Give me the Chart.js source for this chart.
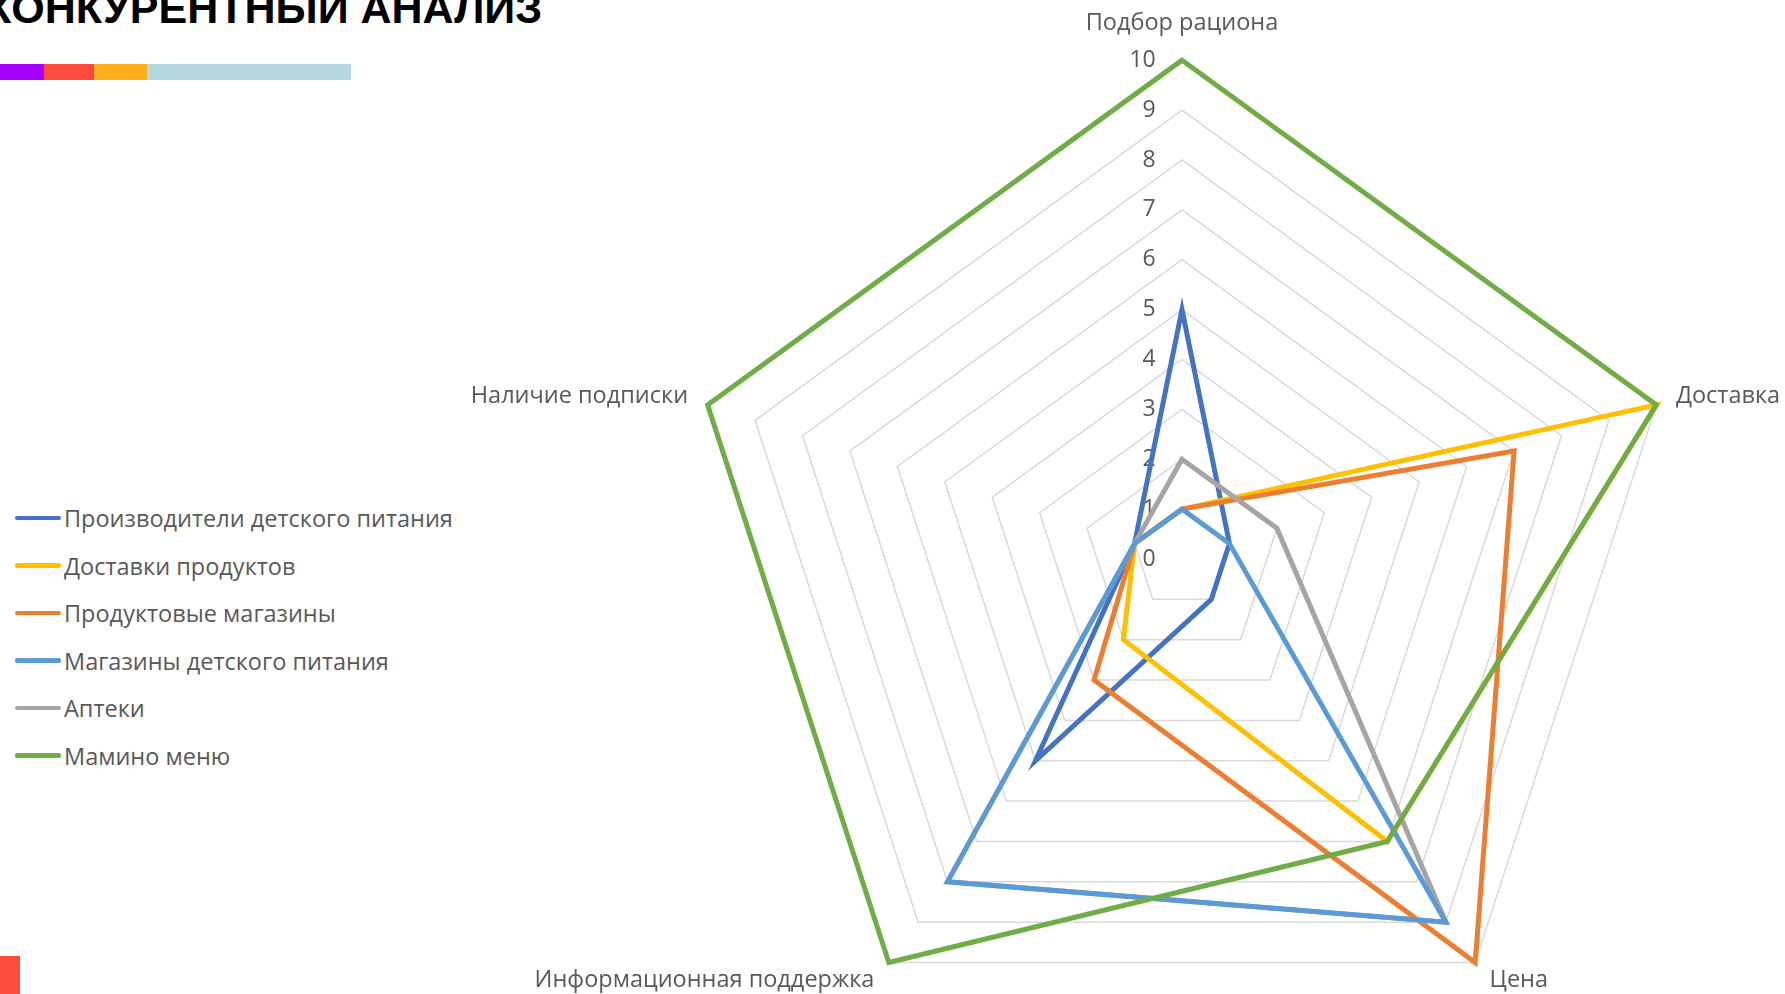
<!DOCTYPE html>
<html lang="ru">
<head>
<meta charset="utf-8">
<title>Конкурентный анализ</title>
<script src="https://cdn.jsdelivr.net/npm/chart.js@4.4.0/dist/chart.umd.min.js"></script>
<style>
    html, body { margin: 0; padding: 0; background: #fff; overflow: hidden; width: 1785px; height: 994px; }
    body { position: relative; font-family: 'Open Sans', sans-serif; }
    .title {
        position: absolute; left: -15px; top: -13px; margin: 0;
        font: bold 43px/43px 'Liberation Sans', Arial, sans-serif; color: #000; white-space: nowrap;
    }
    .stripe { position: absolute; top: 64px; height: 16px; }
    .corner { position: absolute; left: 0; top: 956px; width: 20px; height: 38px; background: #ff4b3e; }
    #legend { position: absolute; left: 15px; top: 501px; margin: 0; padding: 0; list-style: none; }
    #legend li { display: flex; align-items: center; height: 34px; margin-bottom: 13.5px; font-size: 23.5px; color: #595959; white-space: nowrap; }
    #legend .swatch { width: 46px; height: 4.5px; border-radius: 2px; margin-right: 3px; }
    .chart-box { position: absolute; left: 412px; top: -11px; width: 1540px; height: 1101px; }
</style>
</head>
<body>
<h1 class="title">КОНКУРЕНТНЫЙ АНАЛИЗ</h1>
<div class="stripe" style="left:0;width:44px;background:#a500ff"></div>
<div class="stripe" style="left:44px;width:50px;background:#ff4b3e"></div>
<div class="stripe" style="left:94px;width:53px;background:#ffaf19"></div>
<div class="stripe" style="left:147px;width:204px;background:#b6d8e0"></div>
<div class="corner"></div>
<ul id="legend"></ul>
<div class="chart-box"><canvas id="radarChart"></canvas></div>

<script>
// оси диаграммы
const axisLabels = ['Подбор рациона', 'Доставка', 'Цена', 'Информационная поддержка', 'Наличие подписки'];

// оценки по группам конкурентов
const seriesNames = [
    'Производители детского питания',
    'Доставки продуктов',
    'Продуктовые магазины',
    'Магазины детского питания',
    'Аптеки',
    'Мамино меню'
];
const producers = [5, 1, 1, 5, 1];
const deliveries = [1, 10, 7, 2, 1];
const groceries = [1, 7, 10, 3, 1];
const babyStores = [1, 1, 9, 8, 1];
const pharmacies = [2, 2, 9, 8, 1];
const mamaMenu = [10, 10, 7, 10, 10];

// шкала
const scaleMin = 0;
const scaleMax = 10;
const scaleStep = 1;

const seriesValues = [producers, deliveries, groceries, babyStores, pharmacies, mamaMenu];
const seriesColors = ['#4472c4', '#ffc000', '#ed7d31', '#5b9bd5', '#a5a5a5', '#70ad47'];
// порядок отрисовки: меньшее значение рисуется поверх
const drawOrder = [6, 5, 4, 2, 3, 1];

const textColor = '#595959';
const fontFamily = "'Open Sans', sans-serif";

function buildLegend() {
    const list = document.getElementById('legend');
    seriesNames.forEach((name, i) => {
        const li = document.createElement('li');
        const swatch = document.createElement('span');
        swatch.className = 'swatch';
        swatch.style.background = seriesColors[i];
        li.appendChild(swatch);
        li.appendChild(document.createTextNode(name));
        list.appendChild(li);
    });
}

function initChart() {
    const ctx = document.getElementById('radarChart').getContext('2d');

    const datasets = seriesNames.map((name, i) => ({
        label: name,
        data: seriesValues[i],
        borderColor: seriesColors[i],
        backgroundColor: seriesColors[i],
        borderWidth: 5,
        borderJoinStyle: 'miter',
        pointRadius: 0,
        pointHoverRadius: 0,
        fill: false,
        order: drawOrder[i]
    }));

    new Chart(ctx, {
        type: 'radar',
        data: { labels: axisLabels, datasets: datasets },
        options: {
            responsive: true,
            maintainAspectRatio: false,
            animation: false,
            layout: { padding: 0 },
            plugins: {
                legend: { display: false },
                tooltip: { enabled: false }
            },
            scales: {
                r: {
                    min: scaleMin - 1e-9,
                    max: scaleMax,
                    angleLines: { display: false },
                    grid: { color: '#d9d9d9', lineWidth: 1.5 },
                    ticks: {
                        stepSize: scaleStep,
                        showLabelBackdrop: false,
                        backdropPadding: 0,
                        color: textColor,
                        font: { family: fontFamily, size: 23 },
                        // выравниваем подписи слева от оси
                        callback: (value) => {
                            const s = String(Math.round(value));
                            return s + '\u2007'.repeat(s.length + 4);
                        }
                    },
                    pointLabels: {
                        color: textColor,
                        // боковые подписи центрируем по вершине
                        font: (c) => ({
                            family: fontFamily,
                            size: 23.5,
                            lineHeight: (c.index === 1 || c.index === 4) ? 0.2 : 1.2
                        }),
                        padding: (c) => [11.5, 9, -7, -7, 9][c.index],
                        callback: (label, index) => {
                            if (index === 2) return '\u2002' + label;
                            if (index === 3) return label + '\u2002';
                            return label;
                        }
                    }
                }
            }
        }
    });
}

buildLegend();
initChart();
</script>
</body>
</html>
